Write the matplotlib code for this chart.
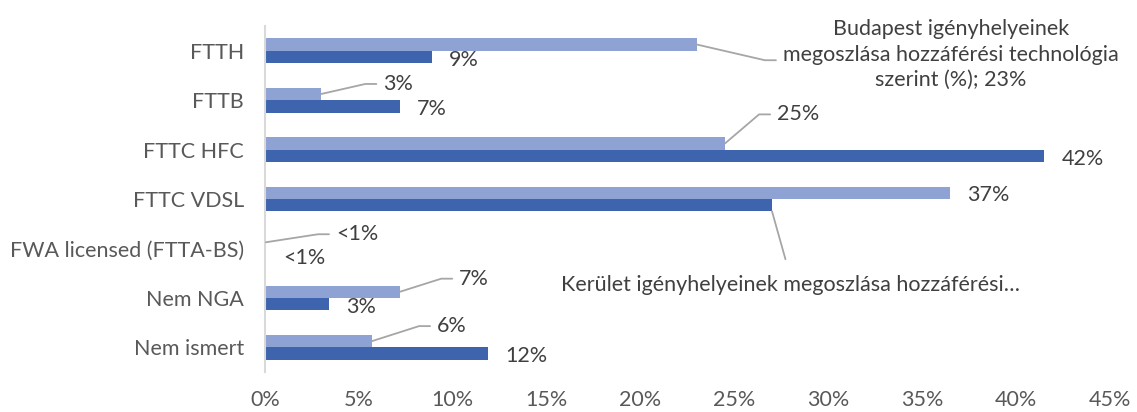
import matplotlib
matplotlib.use('Agg')
import matplotlib.pyplot as plt
import numpy as np

# Data
categories = ['FTTH', 'FTTB', 'FTTC HFC', 'FTTC VDSL', 'FWA licensed (FTTA-BS)', 'Nem NGA', 'Nem ismert']
budapest = [23.0, 3.0, 24.5, 36.5, 0.05, 7.2, 5.7]
kerulet = [8.9, 7.2, 41.5, 27.0, 0.05, 3.4, 11.9]
budapest_labels = ['Budapest igényhelyeinek\nmegoszlása hozzáférési technológia\nszerint (%); 23%',
                   '3%', '25%', '37%', '<1%', '7%', '6%']
kerulet_labels = ['9%', '7%', '42%', 'Kerület igényhelyeinek megoszlása hozzáférési…',
                  '<1%', '3%', '12%']
x_ticks = [0, 5, 10, 15, 20, 25, 30, 35, 40, 45]

light = '#8FA2D4'
dark = '#3D64AD'
text_col = '#404040'
tick_col = '#595959'
leader_col = '#A6A6A6'
fs = 15.5

plt.rcParams['font.family'] = ['Lato', 'DejaVu Sans']

fig = plt.figure(figsize=(11.37, 4.12), dpi=100)
ax = fig.add_axes([265 / 1137, 1 - 372 / 412, (1110 - 265) / 1137, 346 / 412])

y = np.arange(len(categories))
h = 0.25
ax.barh(y - h / 2, budapest, height=h, color=light)
ax.barh(y + h / 2, kerulet, height=h, color=dark)

ax.set_ylim(len(categories) - 0.5, -0.5)
ax.set_xlim(0, 45)
ax.set_yticks(y)
ax.set_yticklabels(categories)
ax.set_xticks(x_ticks)
ax.set_xticklabels([f'{t}%' for t in x_ticks])
ax.tick_params(axis='y', length=0, pad=15, labelsize=fs, labelcolor=tick_col)
ax.tick_params(axis='x', length=0, pad=13, labelsize=fs, labelcolor=tick_col)
for s in ['top', 'right', 'bottom']:
    ax.spines[s].set_visible(False)
ax.spines['left'].set_color('#D9D9D9')
ax.spines['left'].set_linewidth(1.5)

# label offsets (pixels) for the light series; None means plain label next to bar
light_offsets = [(86, -10), (62, 10), (52, 29), None, (70, 8), (59, 13), (65, 15)]

for i, (v, lab) in enumerate(zip(budapest, budapest_labels)):
    off = light_offsets[i]
    if off is None:
        ax.annotate(lab, xy=(v, i - h / 2), xytext=(17, -2), textcoords='offset pixels',
                    ha='left', va='center', fontsize=fs, color=text_col)
    else:
        rel = (0, 0.42) if '\n' in lab else (0, 0.5)
        ax.annotate(lab, xy=(v, i - h / 2), xytext=off, textcoords='offset pixels',
                    ha='left', va='center', multialignment='center', linespacing=1.35,
                    fontsize=fs, color=text_col,
                    arrowprops=dict(arrowstyle='-', color=leader_col, lw=1.3, relpos=rel,
                                    connectionstyle='arc,angleA=180,armA=18,angleB=0,armB=0,rad=0',
                                    shrinkA=3, shrinkB=0))

for i, (v, lab) in enumerate(zip(kerulet, kerulet_labels)):
    if len(lab) > 5:
        ax.annotate(lab, xy=(v, i + h), xytext=(18, -74), textcoords='offset pixels',
                    ha='center', va='center', fontsize=fs, color=text_col,
                    arrowprops=dict(arrowstyle='-', color=leader_col, lw=1.3, relpos=(0.5, 1),
                                    shrinkA=10, shrinkB=0))
    else:
        ax.annotate(lab, xy=(v, i + h / 2), xytext=(17, -3), textcoords='offset pixels',
                    ha='left', va='center', fontsize=fs, color=text_col)

fig.savefig('out.png', dpi=100)
